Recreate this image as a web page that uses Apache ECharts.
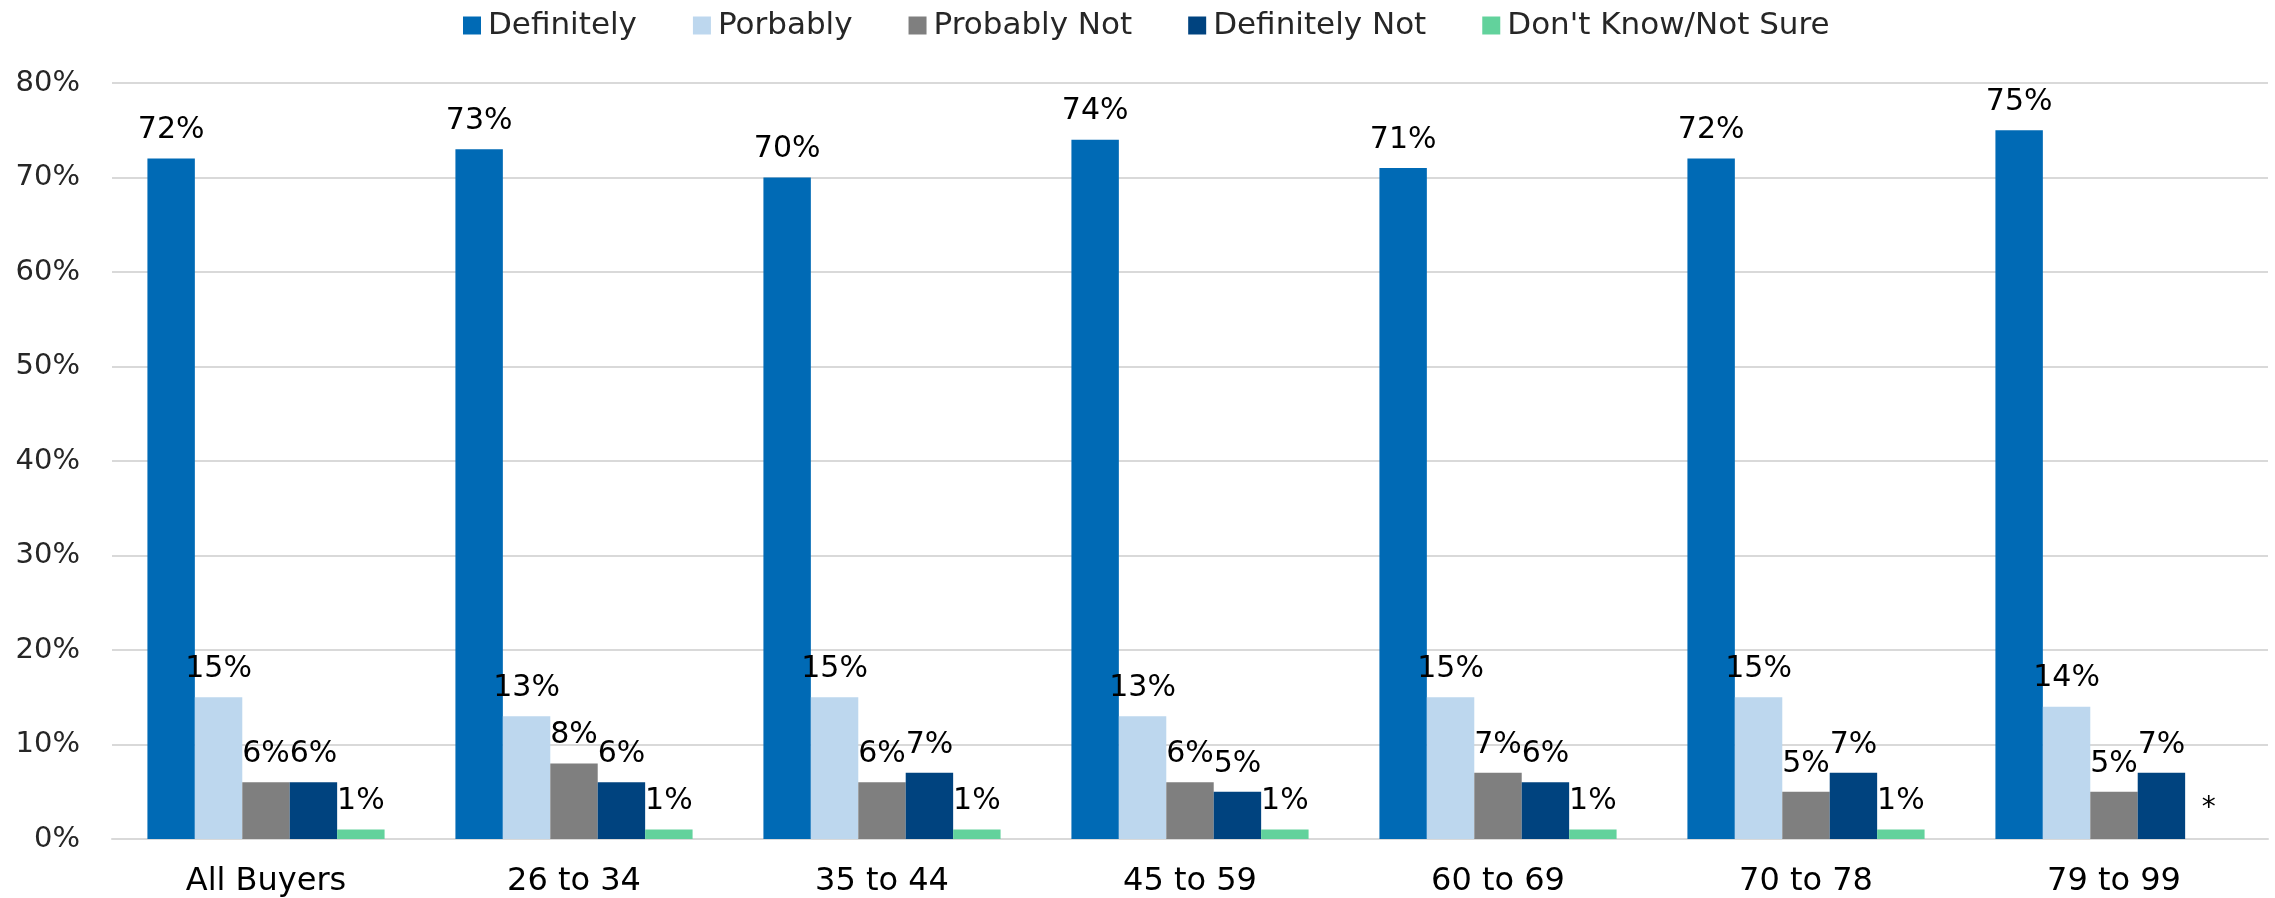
<!DOCTYPE html>
<html>
<head>
<meta charset="utf-8">
<script src="https://cdn.jsdelivr.net/npm/echarts@6/dist/echarts.min.js"></script>
<style>
html,body{margin:0;padding:0;background:#fff;}
#chart{width:2275px;height:898px;}
</style>
</head>
<body>
<div id="chart"></div>
<script>
const categories = ['All Buyers', '26 to 34', '35 to 44', '45 to 59', '60 to 69', '70 to 78', '79 to 99'];
const seriesNames = ['Definitely', 'Porbably', 'Probably Not', 'Definitely Not', "Don't Know/Not Sure"];
const definitely = [72, 73, 70, 74, 71, 72, 75];
const porbably = [15, 13, 15, 13, 15, 15, 14];
const probablyNot = [6, 8, 6, 6, 7, 5, 5];
const definitelyNot = [6, 6, 7, 5, 6, 7, 7];
const dontKnow = [1, 1, 1, 1, 1, 1, null]; // null shown as "*"
const yTicks = [0, 10, 20, 30, 40, 50, 60, 70, 80];
const colors = ['#006AB5', '#BDD7EE', '#7F7F7F', '#00437F', '#62D29C'];

const FONT = 'DejaVu Sans';
const allValues = [definitely, porbably, probablyNot, definitelyNot, dontKnow];

const series = allValues.map((vals, i) => ({
  name: seriesNames[i],
  type: 'bar',
  barGap: '0%',
  barCategoryGap: '23%',
  itemStyle: { color: colors[i] },
  label: {
    show: true,
    position: 'top',
    distance: 13,
    formatter: p => p.value + '%',
    fontFamily: FONT,
    fontSize: 30,
    color: '#000'
  },
  data: vals.map(v => v === null ? { value: 0, label: { formatter: '*', fontSize: 28, distance: 16 } } : v)
}));

const chart = echarts.init(document.getElementById('chart'), null, { renderer: 'canvas' });
chart.setOption({
  animation: false,
  color: colors,
  textStyle: { fontFamily: FONT },
  legend: {
    top: 5,
    left: 458,
    itemWidth: 18,
    itemHeight: 18,
    itemGap: 56,
    icon: 'rect',
    textStyle: { fontFamily: FONT, fontSize: 31, color: '#262626', padding: [0, 0, 0, 2] },
    data: seriesNames
  },
  grid: { left: 112, right: 7, top: 83, bottom: 58, containLabel: false },
  xAxis: {
    type: 'category',
    data: categories,
    axisLine: { show: true, lineStyle: { color: '#D9D9D9', width: 2 } },
    axisTick: { show: false },
    axisLabel: { fontFamily: FONT, fontSize: 32, color: '#000', margin: 27 }
  },
  yAxis: {
    type: 'value',
    min: yTicks[0],
    max: yTicks[yTicks.length - 1],
    interval: 10,
    axisLine: { show: false },
    axisTick: { show: false },
    splitLine: { lineStyle: { color: '#D9D9D9', width: 2 } },
    axisLabel: { fontFamily: FONT, fontSize: 29, color: '#262626', margin: 32, formatter: v => v + '%' }
  },
  series: series
});
</script>
</body>
</html>
